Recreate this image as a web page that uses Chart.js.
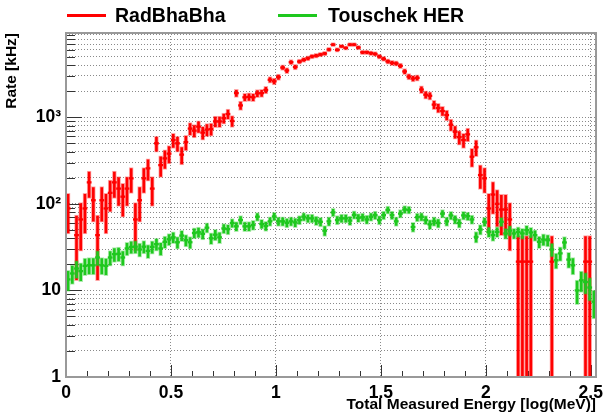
<!DOCTYPE html>
<html>
<head>
<meta charset="utf-8">
<script src="https://cdn.jsdelivr.net/npm/chart.js@4.4.0/dist/chart.umd.min.js"></script>
<style>
  html, body { margin: 0; padding: 0; background: #fff; }
</style>
</head>
<body>
<canvas id="rateChart" width="609" height="414"></canvas>
<script>
// Data ================================

const seriesNames = ['RadBhaBha', 'Touschek HER'];

// 126 bins of log(MeV) (null = empty bin)
const binWidth = 0.02004;
const xMax = 2.525;

// Rate [kHz]
const radBhaBha = [
  88.5, null, 43.5, 66, 88.5, 177, 110, 43.5, 110, 88.5,
  134, 177, 150, 121, 150, 197, 66, 110, 197, 257,
  150, 500, 280, 335, 380, 545, 500, 370, 515, 740,
  700, 780, 665, 720, 730, 895, 895, 975, 1090, 905,
  1900, 1370, 1700, 1720, 1700, 1890, 1900, 2070, 2710, 2600,
  2910, 3750, 3470, 4320, 3800, 4400, 4600, 4800, 5050, 5150,
  5300, 5450, 6050, 6900, 6000, 6600, 6320, 6900, 6900, 6380,
  5620, 5640, 5500, 5380, 5030, 4730, 4420, 4250, 4180, 3920,
  3380, 2950, 2800, 2850, 2090, 1820, 1770, 1400, 1280, 1180,
  1060, 820, 680, 590, 545, 635, 350, 450, 215, 197,
  88.5, 128, 100, 86, 86, 66, null, 21.5, 21.5, 21.5,
  21.5, null, null, null, null, 21.5, null, null, null, null,
  null, null, null, 21.5, 21.5, null
];

const touschekHER = [
  13.4, 15.7, 17.9, 16.7, 19.2, 19.5, 19.5, 24, 19.5, 19.2,
  24, 26.2, 26.5, 24, 30.5, 31.8, 32, 29.7, 32, 28.6,
  31.8, 34.2, 30.5, 36.4, 39, 41, 36, 43, 38, 36,
  46, 47, 45, 53, 40, 44, 41, 52, 51, 60,
  55, 65, 55, 55, 57, 71, 58.5, 55.5, 62.8, 71.5,
  62.8, 62.8, 60.5, 62.8, 61, 65, 71, 68, 68, 64,
  62, 49, 62.8, 79.6, 65, 68, 68, 64, 74.5, 69,
  70, 66, 71, 74, 65, 74, 85, 74, 62.8, 77,
  86, 85, 54, 70, 71, 65, 58, 62.8, 60, 77,
  62.8, 73.5, 66, 60, 73.5, 72, 66, 41.5, 50.5, 62,
  47.5, 43.5, 47.5, 62, 45.5, 49, 45.5, 47.5, 45.5, 49.6,
  46.7, 43.5, 36.4, 38.7, 38, 29.7, 22.3, 26.8, 35.8, 22.7,
  19.5, 10, 13.1, 12.5, 10.8, 7.4
];

// kHz carried by one event in each sample (gives the Poisson error bars)
const ratePerEvent = [21.5, 1.0];

const xTickLabels = ['0', '0.5', '1', '1.5', '2', '2.5'];
const yTickLabels = ['1', '10', '10\u00B2', '10\u00B3'];

const yMin = 1;
const yMax = 9400;

// Helpers =============================

const redColor = '#ff0000';
const greenColor = 'rgb(30,200,30)';
const font = '"Liberation Sans", Arial, Helvetica, sans-serif';

function binCenter(i) {
  return (i + 0.5) * binWidth;
}

// floating bars [v - err, v + err]
function errorBars(values, perEvent) {
  const out = [];
  values.forEach((v, i) => {
    if (v == null) return;
    const err = Math.sqrt(v * perEvent);
    out.push({ x: binCenter(i), y: [Math.max(v - err, 0.3), v + err] });
  });
  return out;
}

function centers(values) {
  const out = [];
  values.forEach((v, i) => {
    if (v == null) return;
    out.push({ x: binCenter(i), y: v });
  });
  return out;
}

function isDecade(v) {
  const l = Math.log10(v);
  return Math.abs(l - Math.round(l)) < 1e-6;
}

function isHalf(v) {
  return Math.abs(v * 2 - Math.round(v * 2)) < 1e-6;
}

// Plugins =============================

// ROOT style: ticks inside the frame
const innerTicks = {
  id: 'innerTicks',
  beforeDatasetsDraw(chart) {
    const { ctx, chartArea: a, scales: { x, y } } = chart;
    ctx.save();
    ctx.strokeStyle = '#333';
    ctx.lineWidth = 1;
    ctx.beginPath();
    y.ticks.forEach(t => {
      const py = Math.round(y.getPixelForValue(t.value)) + 0.5;
      const len = isDecade(t.value) ? 16 : 9;
      ctx.moveTo(a.left, py);
      ctx.lineTo(a.left + len, py);
    });
    x.ticks.forEach(t => {
      const px = Math.round(x.getPixelForValue(t.value)) + 0.5;
      const len = isHalf(t.value) ? 12 : 6;
      ctx.moveTo(px, a.bottom);
      ctx.lineTo(px, a.bottom - len);
    });
    ctx.stroke();
    ctx.restore();
  },
  afterDatasetsDraw(chart) {
    const { ctx, chartArea: a } = chart;
    ctx.save();
    ctx.strokeStyle = '#999';
    ctx.lineWidth = 2;
    ctx.strokeRect(a.left, a.top, a.right - a.left, a.bottom - a.top);
    ctx.restore();
  }
};

// legend above the frame
const legendSpots = [
  { lineX: 67, textX: 115, color: redColor },
  { lineX: 278, textX: 328, color: greenColor }
];
const topLegend = {
  id: 'topLegend',
  afterDraw(chart) {
    const ctx = chart.ctx;
    const y = 15.5;
    ctx.save();
    ctx.font = 'bold 19.5px ' + font;
    ctx.textBaseline = 'middle';
    ctx.fillStyle = '#000';
    legendSpots.forEach((s, i) => {
      ctx.strokeStyle = s.color;
      ctx.lineWidth = 3;
      ctx.beginPath();
      ctx.moveTo(s.lineX, y);
      ctx.lineTo(s.lineX + 39, y);
      ctx.stroke();
      ctx.fillText(seriesNames[i], s.textX, y + 1);
    });
    ctx.restore();
  }
};

// Chart ===============================

const barStyle = (color, halo) => ({
  type: 'bar',
  grouped: false,
  barThickness: 4,
  backgroundColor: color,
  borderColor: halo,
  borderWidth: 1,
  borderSkipped: false
});

const markStyle = (color) => ({
  type: 'scatter',
  pointStyle: 'line',
  pointRadius: 2.4,
  pointHoverRadius: 2.4,
  borderWidth: 2.3,
  borderColor: color,
  backgroundColor: color,
  showLine: false
});

const dataRate = {
  datasets: [
    Object.assign({ label: seriesNames[1] + ' marks', data: centers(touschekHER), order: 0 }, markStyle(greenColor)),
    Object.assign({ label: seriesNames[1], data: errorBars(touschekHER, ratePerEvent[1]), order: 1 }, barStyle(greenColor, 'rgba(30,200,30,0.35)')),
    Object.assign({ label: seriesNames[0] + ' marks', data: centers(radBhaBha), order: 2 }, markStyle(redColor)),
    Object.assign({ label: seriesNames[0], data: errorBars(radBhaBha, ratePerEvent[0]), order: 3 }, barStyle(redColor, 'rgba(255,0,0,0.35)'))
  ]
};

const configRate = {
  type: 'bar',
  data: dataRate,
  options: {
    responsive: false,
    animation: false,
    events: [],
    layout: { padding: { top: 33, right: 7, left: 0, bottom: 0 } },
    plugins: {
      legend: { display: false },
      tooltip: { enabled: false }
    },
    scales: {
      x: {
        type: 'linear',
        min: 0,
        max: xMax,
        offset: false,
        afterBuildTicks: (scale) => {
          scale.ticks = [];
          for (let i = 0; i <= 25; i++) scale.ticks.push({ value: i / 10 });
        },
        afterFit: (scale) => { scale.height = 37; },
        ticks: {
          autoSkip: false,
          maxRotation: 0,
          padding: 6,
          color: '#000',
          font: { family: font, size: 17.5, weight: 'bold' },
          callback: (value) => isHalf(value) ? xTickLabels[Math.round(value * 2)] : ''
        },
        grid: {
          offset: false,
          drawTicks: false,
          lineWidth: 1,
          color: (c) => (c.tick && isHalf(c.tick.value) && c.tick.value > 0) ? '#8a8a8a' : 'rgba(0,0,0,0)'
        },
        border: { display: false, dash: [1, 2] },
        title: {
          display: true,
          text: 'Total Measured Energy [log(MeV)]',
          align: 'end',
          color: '#000',
          padding: { top: 0, bottom: 0 },
          font: { family: font, size: 15.5, weight: 'bold' }
        }
      },
      y: {
        type: 'logarithmic',
        min: yMin,
        max: yMax,
        afterBuildTicks: (scale) => {
          scale.ticks = [];
          for (let d = 1; d <= 1000; d *= 10) {
            for (let m = 1; m <= 9; m++) scale.ticks.push({ value: m * d });
          }
        },
        afterFit: (scale) => { scale.width = 66; },
        ticks: {
          autoSkip: false,
          padding: 5,
          color: '#000',
          font: { family: font, size: 17.5, weight: 'bold' },
          callback: (value) => isDecade(value) ? yTickLabels[Math.round(Math.log10(value))] : ''
        },
        grid: {
          drawTicks: false,
          lineWidth: 1,
          color: (c) => (c.tick && c.tick.value > 1) ? '#8a8a8a' : 'rgba(0,0,0,0)'
        },
        border: { display: false, dash: [1, 2] },
        title: {
          display: true,
          text: 'Rate [kHz]',
          align: 'end',
          color: '#000',
          padding: { top: 2, bottom: 0 },
          font: { family: font, size: 15.5, weight: 'bold' }
        }
      }
    }
  },
  plugins: [innerTicks, topLegend]
};

const rateChart = new Chart(
  document.getElementById('rateChart'),
  configRate
);
</script>
</body>
</html>
